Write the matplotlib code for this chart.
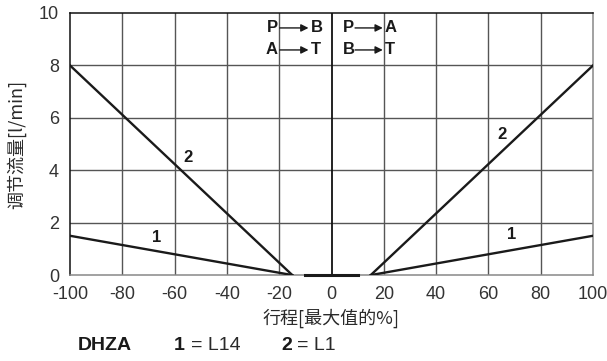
import matplotlib
matplotlib.use("Agg")
import matplotlib.pyplot as plt

plt.rcParams['font.family'] = ['Liberation Sans', 'Noto Sans CJK SC', 'DejaVu Sans']
plt.rcParams['axes.unicode_minus'] = False

# data
x_left = [-100, -15]
x_right = [15, 100]
q1_left = [1.5, 0]
q2_left = [8, 0]
q1_right = [0, 1.5]
q2_right = [0, 8]
x_dead = [-10, 10]
q_dead = [0, 0]
xticks = [-100, -80, -60, -40, -20, 0, 20, 40, 60, 80, 100]
yticks = [0, 2, 4, 6, 8, 10]

fig = plt.figure(figsize=(6.07, 3.61), dpi=100)
ax = fig.add_axes([0.1153, 0.238, 0.977 - 0.1153, 0.964 - 0.238])
ax.set_xlim(-100, 100)
ax.set_ylim(0, 10)
ax.set_xticks(xticks)
ax.set_yticks(yticks)
ax.tick_params(length=0, labelsize=13, colors='#333333')
ax.tick_params(axis='x', pad=8)
ax.tick_params(axis='y', pad=8)

for xv in xticks[1:-1]:
    if xv == 0:
        continue
    ax.axvline(xv, color='#555555', lw=1.0, zorder=1)
for yv in yticks[1:-1]:
    ax.axhline(yv, color='#555555', lw=1.0, zorder=1)
ax.axvline(0, color='#111111', lw=1.3, zorder=2)

ax.spines['left'].set_color('#111111')
ax.spines['top'].set_color('#111111')
ax.spines['right'].set_color('#888888')
ax.spines['bottom'].set_color('#888888')
for s in ax.spines.values():
    s.set_linewidth(1.1)

lc = '#1a1a1a'
ax.plot(x_left, q1_left, color=lc, lw=1.7, zorder=3)
ax.plot(x_left, q2_left, color=lc, lw=1.7, zorder=3)
ax.plot(x_right, q1_right, color=lc, lw=1.7, zorder=3)
ax.plot(x_right, q2_right, color=lc, lw=1.7, zorder=3)
ax.plot(x_dead, q_dead, color=lc, lw=2.2, zorder=3, clip_on=False)

lbl = dict(fontsize=12, fontweight='bold', ha='center', va='center', color='#1a1a1a')
ax.text(-55, 4.5, '2', **lbl)
ax.text(-67, 1.45, '1', **lbl)
ax.text(65, 5.35, '2', **lbl)
ax.text(69, 1.55, '1', **lbl)

# flow direction symbols
fs = dict(fontsize=12, fontweight='bold', va='center', color='#1a1a1a')
rows = [9.43, 8.59]
left_pairs = [('P', 'B'), ('A', 'T')]
right_pairs = [('P', 'A'), ('B', 'T')]
for yv, (a, b) in zip(rows, left_pairs):
    ax.text(-20.6, yv, a, ha='right', **fs)
    ax.text(-7.8, yv, b, ha='left', **fs)
    ax.annotate('', xy=(-8.8, yv), xytext=(-19.8, yv),
                arrowprops=dict(arrowstyle='-|>', color='#1a1a1a', lw=1.0, mutation_scale=11,
                                shrinkA=0, shrinkB=0))
for yv, (a, b) in zip(rows, right_pairs):
    ax.text(4.3, yv, a, ha='left', **fs)
    ax.text(20.4, yv, b, ha='left', **fs)
    ax.annotate('', xy=(19.6, yv), xytext=(9.0, yv),
                arrowprops=dict(arrowstyle='-|>', color='#1a1a1a', lw=1.0, mutation_scale=11,
                                shrinkA=0, shrinkB=0))

ax.set_xlabel('行程[最大值的%]', fontsize=13, color='#2a2a2a', labelpad=4,
              family=['Noto Sans CJK SC', 'DejaVu Sans'], fontweight='light')
ax.set_ylabel('调节流量[l/min]', fontsize=13, color='#2a2a2a', labelpad=9,
              family=['Noto Sans CJK SC', 'DejaVu Sans'], fontweight='light')

# bottom legend text
yb = 1 - 345 / 361
bt = dict(fontsize=14, va='center')
fig.text(78 / 607, yb, 'DHZA', fontweight='bold', color='#1a1a1a', **bt)
fig.text(174 / 607, yb, '1', fontweight='bold', color='#1a1a1a', **bt)
fig.text(191 / 607, yb, '= L14', color='#2a2a2a', **bt)
fig.text(281 / 607, yb, '2', fontweight='bold', color='#1a1a1a', **bt)
fig.text(297 / 607, yb, '= L1', color='#2a2a2a', **bt)

fig.savefig('out.png', dpi=100)
